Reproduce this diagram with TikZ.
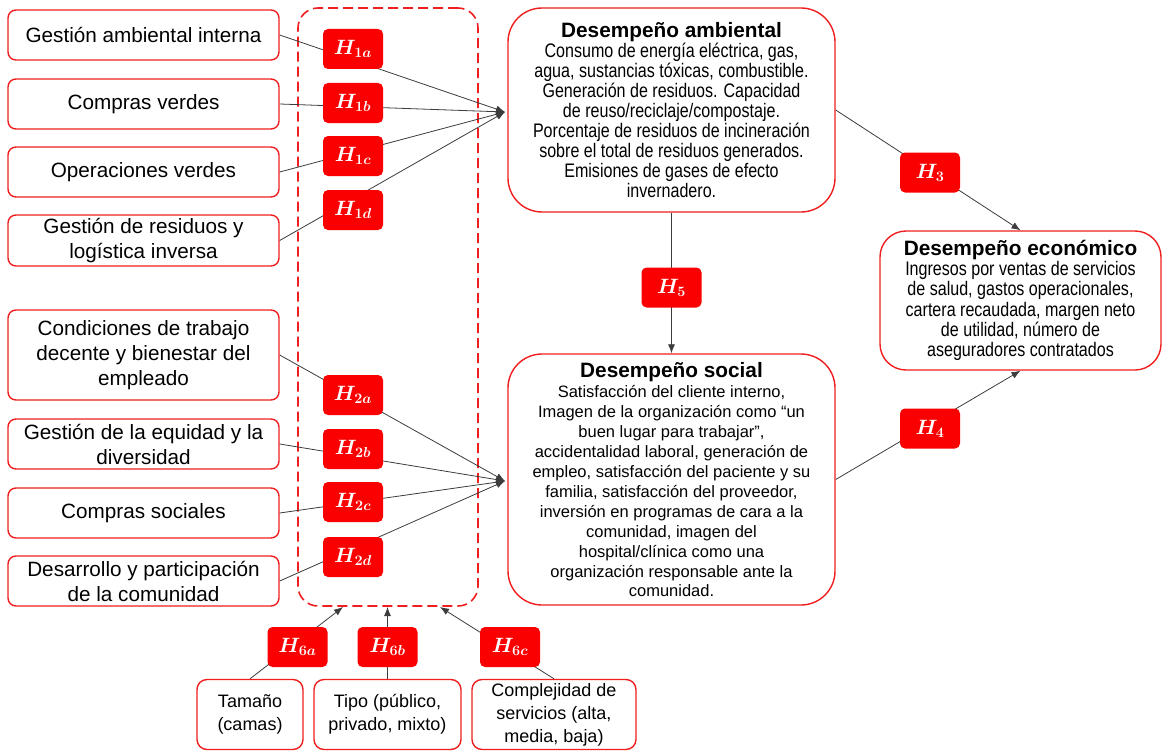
\documentclass[tikz,border=0pt]{standalone}
\usepackage[no-math]{fontspec}
\setmainfont{Liberation Sans}
\newfontfamily\narrowfont[FakeStretch=0.82]{Liberation Sans}
\usepackage{amsmath}
\usetikzlibrary{arrows.meta}
\definecolor{boxred}{RGB}{240,30,30}
\definecolor{hred}{RGB}{250,0,0}
\definecolor{linegray}{RGB}{60,60,60}
\newcommand{\hyp}[1]{$\boldsymbol{H_{#1}}$}
\newcommand{\ttlfont}{\rmfamily\fontsize{20.8}{20}\selectfont\bfseries}
\begin{document}
\begin{tikzpicture}[x=1pt,y=-1pt,
  lbox/.style={draw=boxred, line width=1.4pt, rounded corners=8pt, fill=white,
    minimum width=271pt, minimum height=50pt, align=center, inner sep=0pt,
    font=\fontsize{20.7}{25}\selectfont},
  sbox/.style={draw=boxred, line width=1.4pt, rounded corners=10pt, fill=white,
    minimum height=70pt, align=center, inner sep=0pt,
    font=\fontsize{18}{23}\selectfont},
  hbox/.style={fill=hred, rounded corners=5pt, minimum width=60pt,
    minimum height=40pt, text=white, inner sep=0pt,
    font=\fontsize{21}{24}\selectfont},
  bigbox/.style={draw=boxred, line width=1.4pt, fill=white, align=center,
    inner sep=0pt},
  grpbox/.style={draw=boxred, line width=1.6pt, dash pattern=on 10pt off 5pt,
    rounded corners=20pt, minimum width=180pt, minimum height=598pt},
  link/.style={draw=linegray, line width=0.8pt},
  arr/.style={link, -{Latex[length=9pt,width=7pt]}}
]
\useasboundingbox (0,0) rectangle (1162,752);

% dashed group of practices
\node[grpbox] (grp) at (388,307) {};

% practice boxes
\node[lbox] (g1) at (143.5,35) {Gestión ambiental interna};
\node[lbox] (g2) at (143.5,104) {Compras verdes};
\node[lbox] (g3) at (143.5,172) {Operaciones verdes};
\node[lbox, minimum height=51pt] (g4) at (143.5,240.5) {Gestión de residuos y\\logística inversa};
\node[lbox, minimum height=90pt] (s1) at (143.5,355) {Condiciones de trabajo\\decente y bienestar del\\empleado};
\node[lbox] (s2) at (143.5,444) {Gestión de la equidad y la\\diversidad};
\node[lbox] (s3) at (143.5,513) {Compras sociales};
\node[lbox] (s4) at (143.5,581) {Desarrollo y participación\\de la comunidad};

% performance boxes
\node[bigbox, rounded corners=34pt, minimum width=327pt, minimum height=204pt,
      font=\narrowfont\fontsize{19.6}{20}\selectfont] (amb) at (671.5,110)
  {{\ttlfont Desempeño ambiental}\\
   Consumo de energía eléctrica, gas,\\
   agua, sustancias tóxicas, combustible.\\
   Generación de residuos. Capacidad\\
   de reuso/reciclaje/compostaje.\\
   Porcentaje de residuos de incineración\\
   sobre el total de residuos generados.\\
   Emisiones de gases de efecto\\
   invernadero.};

\node[bigbox, rounded corners=34pt, minimum width=327pt, minimum height=251pt,
      font=\fontsize{16.5}{19.9}\selectfont] (soc) at (671.5,479.5)
  {{\ttlfont Desempeño social}\\[1pt]
   Satisfacción del cliente interno,\\
   Imagen de la organización como “un\\
   buen lugar para trabajar”,\\
   accidentalidad laboral, generación de\\
   empleo, satisfacción del paciente y su\\
   familia, satisfacción del proveedor,\\
   inversión en programas de cara a la\\
   comunidad, imagen del\\
   hospital/clínica como una\\
   organización responsable ante la\\
   comunidad.};

\node[bigbox, rounded corners=26pt, minimum width=281pt, minimum height=139pt,
      font=\narrowfont\fontsize{19.6}{20.3}\selectfont] (eco) at (1020.5,300.5)
  {{\ttlfont Desempeño económico}\\
   Ingresos por ventas de servicios\\
   de salud, gastos operacionales,\\
   cartera recaudada, margen neto\\
   de utilidad, número de\\
   aseguradores contratados};

% hospital characteristics
\node[sbox, minimum width=106pt] (t1) at (250,714.5) {Tamaño\\(camas)};
\node[sbox, minimum width=147pt] (t2) at (387.5,714.5) {Tipo (público,\\privado, mixto)};
\node[sbox, minimum width=164pt] (t3) at (554,714.5) {Complejidad de\\servicios (alta,\\media, baja)};

% arrow end points
\coordinate (ambin) at (505,112);
\coordinate (socin) at (505,481);
\coordinate (g6a) at (343,607);
\coordinate (g6b) at (387.5,607);
\coordinate (g6c) at (440,607);

% connectors
\foreach \n in {g1,g2,g3,g4} \draw[arr] (\n.east) -- (ambin);
\foreach \n in {s1,s2,s3,s4} \draw[arr] (\n.east) -- (socin);
\draw[arr] (amb.east) -- (eco.north);
\draw[arr] (soc.east) -- (eco.south);
\draw[arr] (amb.south) -- (soc.north);
\draw[arr] (t1.north) -- (g6a);
\draw[arr] (t2.north) -- (g6b);
\draw[arr] (t3.north) -- (g6c);

% hypothesis labels
\node[hbox] (h1a) at (353,49) {\hyp{1a}};
\node[hbox] (h1b) at (353,103) {\hyp{1b}};
\node[hbox] (h1c) at (353,156) {\hyp{1c}};
\node[hbox] (h1d) at (353,210) {\hyp{1d}};
\node[hbox] (h2a) at (353,395) {\hyp{2a}};
\node[hbox] (h2b) at (353,449) {\hyp{2b}};
\node[hbox] (h2c) at (353,502) {\hyp{2c}};
\node[hbox] (h2d) at (353,557) {\hyp{2d}};
\node[hbox] (h3) at (930,172.5) {\hyp{3}};
\node[hbox] (h4) at (930,428.5) {\hyp{4}};
\node[hbox] (h5) at (671.5,287.5) {\hyp{5}};
\node[hbox] (h6a) at (297.5,647) {\hyp{6a}};
\node[hbox] (h6b) at (387.5,647) {\hyp{6b}};
\node[hbox] (h6c) at (510,647) {\hyp{6c}};
\end{tikzpicture}
\end{document}
